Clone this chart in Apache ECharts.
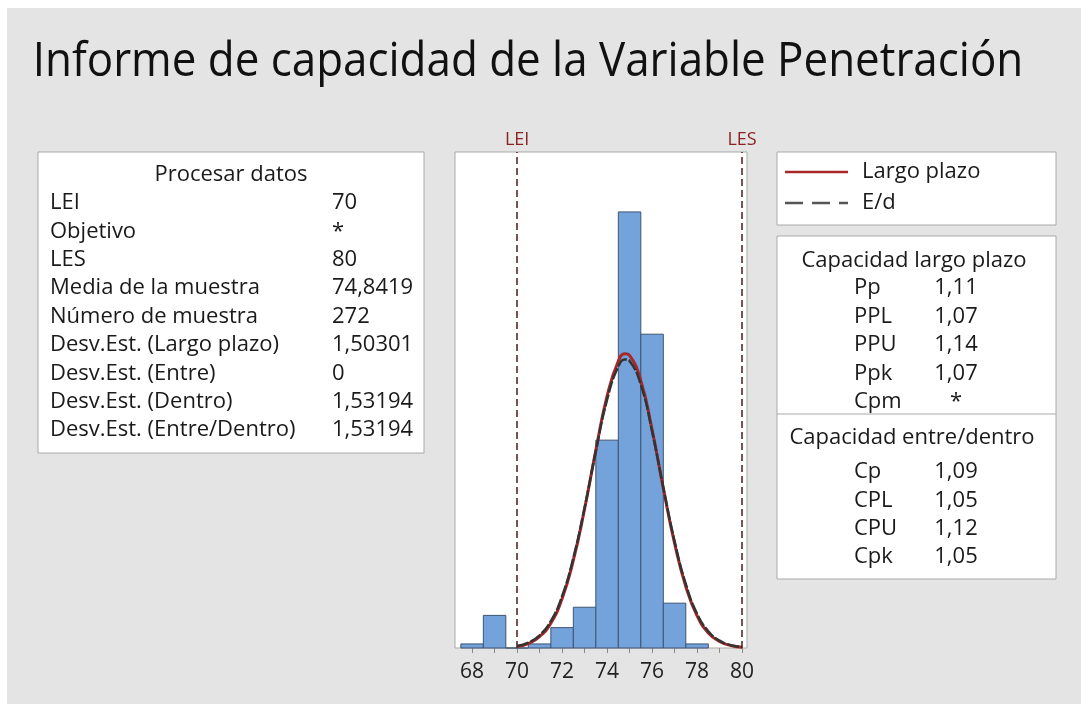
<!DOCTYPE html>
<html>
<head>
<meta charset="utf-8">
<script src="https://cdn.jsdelivr.net/npm/echarts@6/dist/echarts.min.js"></script>
<style>
  html, body { margin: 0; padding: 0; background: #ffffff; }
  #chart { width: 1091px; height: 707px; }
</style>
</head>
<body>
<div id="chart"></div>
<script>
// histogram: bin centres (width 1) and counts
const binCenters = [68, 69, 70, 71, 72, 73, 74, 75, 76, 77, 78];
const binCounts = [1, 8, 0, 1, 5, 10, 51, 107, 77, 11, 1];

// fitted curves
const curveX = [70, 70.5, 71, 71.5, 72, 72.5, 73, 73.5, 74, 74.5, 74.8, 75, 75.5, 76, 76.5, 77, 77.5, 78, 78.5, 79, 79.5, 80];
const longTerm = [0.4, 1.1, 2.8, 6.1, 12.1, 21.5, 34.1, 48.5, 61.8, 70.4, 72.2, 71.8, 65.6, 53.6, 39.2, 25.7, 15.1, 7.9, 3.7, 1.6, 0.6, 0.2];
const within = [0.5, 1.3, 3.1, 6.6, 12.7, 22.1, 34.4, 48.3, 60.9, 69.1, 70.8, 70.4, 64.6, 53.2, 39.4, 26.2, 15.7, 8.4, 4.1, 1.8, 0.7, 0.2];

const LEI = 70;
const LES = 80;
const tickValues = [68, 69, 70, 71, 72, 73, 74, 75, 76, 77, 78, 79, 80];
const labelValues = [68, 70, 72, 74, 76, 78, 80];

// tables
const processLabels = ['LEI', 'Objetivo', 'LES', 'Media de la muestra', 'Número de muestra',
  'Desv.Est. (Largo plazo)', 'Desv.Est. (Entre)', 'Desv.Est. (Dentro)', 'Desv.Est. (Entre/Dentro)'];
const processValues = ['70', '*', '80', '74,8419', '272', '1,50301', '0', '1,53194', '1,53194'];
const longLabels = ['Pp', 'PPL', 'PPU', 'Ppk', 'Cpm'];
const longValues = ['1,11', '1,07', '1,14', '1,07', '*'];
const withinLabels = ['Cp', 'CPL', 'CPU', 'Cpk'];
const withinValues = ['1,09', '1,05', '1,12', '1,05'];

const FONT = '"Open Sans", "Noto Sans", sans-serif';
const colors = {
  bg: '#e4e4e4',
  box: '#ffffff',
  boxBorder: '#a9a9a9',
  text: '#1a1a1a',
  barFill: '#74a2da',
  barBorder: '#3e5573',
  red: '#a82828',
  dash: '#333333',
  spec: '#4a1c1c',
  specText: '#8b2222'
};

function txt(text, x, y, size, align, color) {
  return {
    type: 'text', silent: true, z: 10,
    style: {
      text: text, x: x, y: y, fill: color || colors.text,
      font: size + 'px ' + FONT,
      textAlign: align || 'left', textVerticalAlign: 'middle',
      align: align || 'left', verticalAlign: 'middle'
    }
  };
}
function box(x, y, w, h) {
  return {
    type: 'rect', silent: true, z: 1,
    shape: { x: x, y: y, width: w, height: h },
    style: { fill: colors.box, stroke: colors.boxBorder, lineWidth: 1 }
  };
}
function line(x1, y1, x2, y2, color, width, dash) {
  return {
    type: 'line', silent: true, z: 10,
    shape: { x1: x1, y1: y1, x2: x2, y2: y2 },
    style: { stroke: color, lineWidth: width, lineDash: dash || null }
  };
}

// title is a bit narrower than Open Sans, so squeeze it horizontally
const title = txt('Informe de capacidad de la Variable Penetración', 0, 0, 48, 'center', '#111');
title.x = 528;
title.y = 62;
title.scaleX = 0.915;

const graphics = [
  { type: 'rect', silent: true, z: -10, shape: { x: 7, y: 8, width: 1074, height: 696 }, style: { fill: colors.bg } },
  title,
  // process data panel
  box(38, 152, 386, 301),
  txt('Procesar datos', 231, 175, 22, 'center')
];
processLabels.forEach(function (l, i) {
  graphics.push(txt(l, 50, 203 + i * 28.4, 22, 'left'));
  graphics.push(txt(processValues[i], 332, 203 + i * 28.4, 22, 'left'));
});
// legend panel
graphics.push(box(777, 152, 279, 73));
graphics.push(line(785, 172, 848, 172, colors.red, 2.5));
graphics.push(line(785, 203, 848, 203, '#555', 2.5, [18, 9]));
graphics.push(txt('Largo plazo', 862, 172, 22, 'left'));
graphics.push(txt('E/d', 862, 203, 22, 'left'));
// capability panel
graphics.push(box(777, 236, 279, 343));
graphics.push(line(777, 414, 1056, 414, colors.boxBorder, 1));
graphics.push(txt('Capacidad largo plazo', 914, 261, 22, 'center'));
longLabels.forEach(function (l, i) {
  graphics.push(txt(l, 854, 288 + i * 28.5, 22, 'left'));
  graphics.push(txt(longValues[i], 956, 288 + i * 28.5, 22, 'center'));
});
graphics.push(txt('Capacidad entre/dentro', 912, 438, 22, 'center'));
withinLabels.forEach(function (l, i) {
  graphics.push(txt(l, 854, 472 + i * 28.4, 22, 'left'));
  graphics.push(txt(withinValues[i], 956, 472 + i * 28.4, 22, 'center'));
});

const chart = echarts.init(document.getElementById('chart'));

const option = {
  backgroundColor: 'transparent',
  animation: false,
  graphic: graphics,
  grid: {
    left: 455, top: 152, width: 292, height: 496,
    show: true, backgroundColor: '#ffffff', borderColor: colors.boxBorder, borderWidth: 1
  },
  xAxis: {
    type: 'value', min: 67.24, max: 80.22,
    axisLine: { show: false },
    splitLine: { show: false },
    axisTick: { show: true, length: 5, customValues: tickValues, lineStyle: { color: '#8a8a8a' } },
    axisLabel: {
      customValues: labelValues, fontSize: 21, color: '#222', margin: 14, fontFamily: FONT
    }
  },
  yAxis: {
    type: 'value', min: 0, max: 121.7, show: false, splitLine: { show: false }
  },
  series: [
    {
      type: 'custom',
      data: binCenters.map(function (c, i) { return [c - 0.5, c + 0.5, binCounts[i]]; }),
      renderItem: function (params, api) {
        const p0 = api.coord([api.value(0), api.value(2)]);
        const p1 = api.coord([api.value(1), 0]);
        return {
          type: 'rect',
          shape: { x: p0[0], y: p0[1], width: p1[0] - p0[0], height: p1[1] - p0[1] },
          style: { fill: colors.barFill, stroke: colors.barBorder, lineWidth: 1 }
        };
      },
      z: 2
    },
    {
      type: 'line', name: 'Largo plazo',
      data: curveX.map(function (x, i) { return [x, longTerm[i]]; }),
      smooth: true, showSymbol: false,
      lineStyle: { color: colors.red, width: 3 },
      z: 3,
      markLine: {
        silent: true, symbol: 'none',
        lineStyle: { color: colors.spec, type: [7, 4], width: 1.5 },
        label: { show: true, position: 'end', color: colors.specText, fontSize: 18, fontFamily: FONT, distance: 3 },
        data: [
          { xAxis: LEI, label: { formatter: 'LEI' } },
          { xAxis: LES, label: { formatter: 'LES' } }
        ]
      }
    },
    {
      type: 'line', name: 'E/d',
      data: curveX.map(function (x, i) { return [x, within[i]]; }),
      smooth: true, showSymbol: false,
      lineStyle: { color: colors.dash, width: 2.5, type: [12, 2] },
      z: 4
    }
  ]
};

chart.setOption(option);
window.addEventListener('resize', function () { chart.resize(); });
</script>
</body>
</html>
